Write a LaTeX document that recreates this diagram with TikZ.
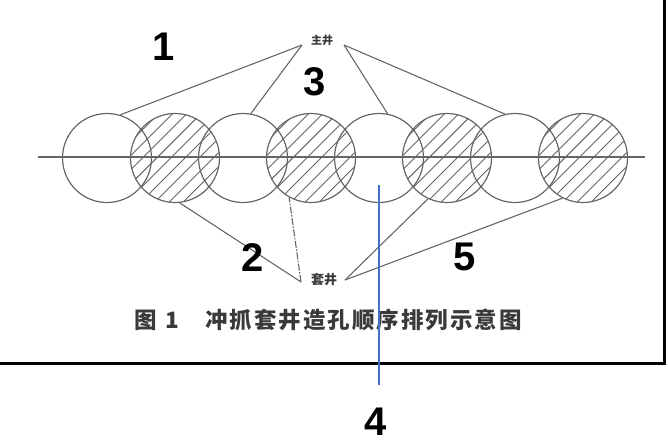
\documentclass[tikz,border=0pt]{standalone}
\usepackage{fontspec}
\setmainfont{Liberation Sans}
\newfontfamily\cjk{Noto Sans CJK SC}
\definecolor{ink}{HTML}{666666}
\definecolor{capink}{HTML}{3A3A3A}
\definecolor{blueln}{RGB}{68,114,196}
\begin{document}
\begin{tikzpicture}[x=1pt,y=-1pt,
  ln/.style={draw=ink, line width=1.1pt},
  hatchln/.style={draw=ink, line width=0.9pt},
  hole/.style={circle, draw=ink, line width=1.2pt, minimum size=89pt, inner sep=0pt},
  num/.style={inner sep=0pt, font=\fontsize{40}{40}\selectfont\bfseries},
  lab/.style={inner sep=0pt, text=capink, font=\cjk\fontsize{11}{11}\selectfont\bfseries},
  labb/.style={inner sep=0pt, text=capink, font=\cjk\fontsize{13}{13}\selectfont\bfseries},
  captext/.style={inner sep=0pt, text=capink, font=\cjk\fontsize{22.5}{22.5}\selectfont\bfseries}]
\useasboundingbox (0,0) rectangle (668,444);
% hatching
\foreach \k in {1,3,5,7}{
  \pgfmathsetmacro{\cx}{107+68*\k}
  \begin{scope}
    \clip (\cx,158) circle (44.5);
    \foreach \d in {-63,-53,...,67}{
      \draw[hatchln] (\cx+\d*1.4142-70,228) -- ++(140,-140);
    }
  \end{scope}
}
% circles
\foreach \k in {0,...,7}{
  \pgfmathtruncatemacro{\idx}{\k+1}
  \node[hole] (c\idx) at (107+68*\k,158) {};
}
% axis
\coordinate (al) at (38,157);
\coordinate (ar) at (645,157);
\draw[ln] (al) -- (ar);
% labels
\node[lab] (zj) at (322,40) {主井};
\node[labb] (tj) at (324,280) {套井};
\coordinate (zl) at (302,45);
\coordinate (zr) at (344,45);
\coordinate (tl) at (301,282);
\coordinate (tr) at (345,280);
\draw[ln] (zl) -- (c1.73);
\draw[ln] (zl) -- (c3.80);
\draw[ln] (zr) -- (c5.79);
\draw[ln] (zr) -- (c7.103);
\draw[ln] (tl) -- (c2.-84);
\draw[ln, dash pattern=on 7pt off 1.5pt on 1.5pt off 1.5pt] (tl) -- (c4.-119);
\draw[ln] (tr) -- (c6.-115);
\draw[ln] (tr) -- (c8.-117);
% caption
\node[captext] (fig) at (146,320) {图};
\node[captext] (fign) at (172,320) {1};
\node[captext, anchor=west] (capline) at (205,320) {\addfontfeature{LetterSpace=9}冲抓套井造孔顺序排列示意图};
% frame
\coordinate (fb) at (0,363.5);
\coordinate (fc) at (664,363.5);
\coordinate (ft) at (664,0);
\draw[line width=3pt, black] (fb) -- (fc) -- (ft);
% numbers
\node[num] (n1) at (164,47) {1};
\node[num] (n3) at (315,82) {3};
\node[num] (n2) at (253,258) {2};
\node[num] (n5) at (465,257) {5};
\node[num] (n4) at (376,422) {4};
% blue pointer
\coordinate (b1) at (379,185);
\coordinate (b2) at (379,385);
\draw[blueln, line width=1.6pt] (b1) -- (b2);
\end{tikzpicture}
\end{document}
